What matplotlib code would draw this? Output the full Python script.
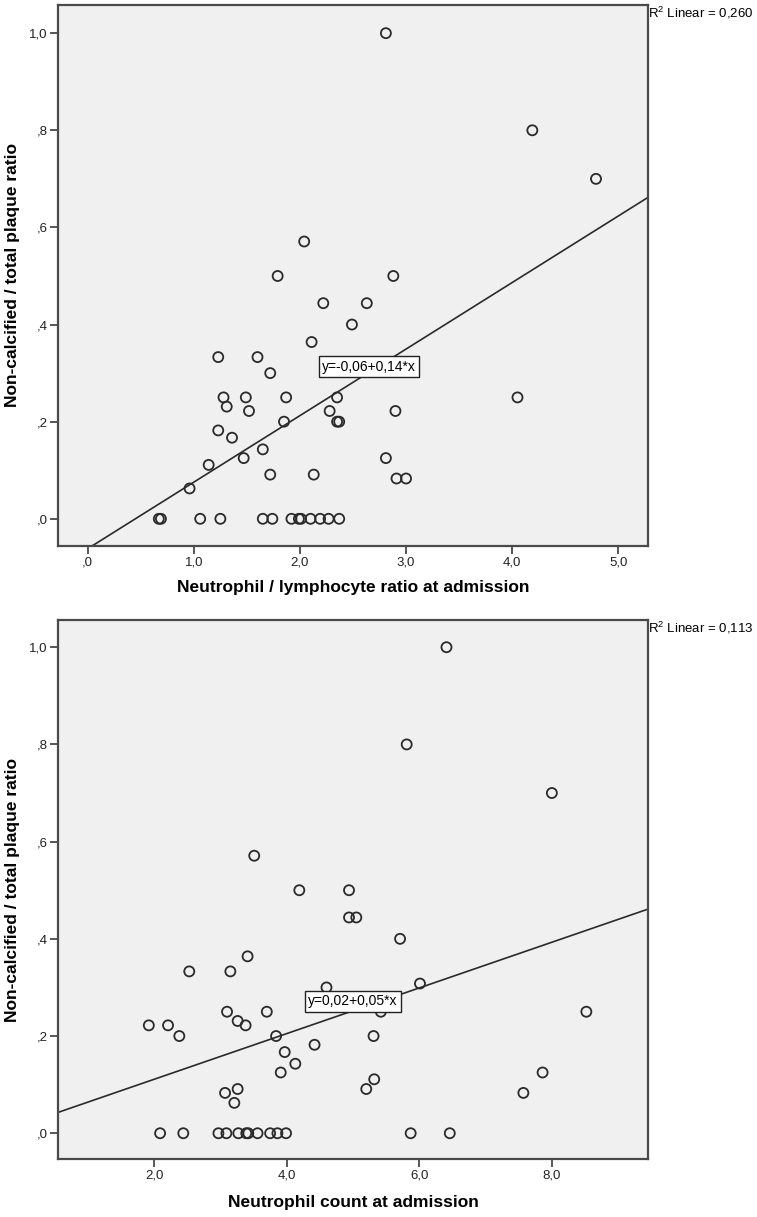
import matplotlib
matplotlib.use("Agg")
import matplotlib.pyplot as plt
import numpy as np

plt.rcParams['font.family'] = ['Liberation Sans', 'DejaVu Sans']
plt.rcParams['mathtext.fontset'] = 'custom'
plt.rcParams['mathtext.rm'] = 'Liberation Sans'
plt.rcParams['mathtext.it'] = 'Liberation Sans:italic'
plt.rcParams['mathtext.bf'] = 'Liberation Sans:bold'

# ---------------- data: top panel (NLR) ----------------
nlr_x = [0.67, 0.69, 1.06, 1.25, 1.65, 1.74, 1.92, 1.99, 2.01, 2.10, 2.19, 2.27, 2.37,
         0.96, 1.14, 1.47, 1.65, 1.36, 1.23, 1.85, 2.35, 2.37, 1.52, 2.28, 1.31,
         1.28, 1.49, 1.87, 2.35, 1.72, 1.23, 1.60, 2.11, 2.49, 2.22, 2.63, 1.79,
         2.88, 2.04, 2.81, 4.19, 4.79, 4.05, 2.90, 2.81, 2.91, 3.00, 1.72, 2.13]
nlr_y = [0, 0, 0, 0, 0, 0, 0, 0, 0, 0, 0, 0, 0,
         0.0625, 0.111, 0.125, 0.143, 0.167, 0.182, 0.200, 0.200, 0.200, 0.222, 0.222, 0.231,
         0.250, 0.250, 0.250, 0.250, 0.300, 0.333, 0.333, 0.364, 0.400, 0.444, 0.444, 0.500,
         0.500, 0.571, 1.000, 0.800, 0.700, 0.250, 0.222, 0.125, 0.083, 0.083, 0.091, 0.091]
nlr_fit = (-0.0615, 0.137)          # intercept, slope
nlr_eq = "y=-0,06+0,14*x"
nlr_r2 = "0,260"
nlr_xticks = [0, 1, 2, 3, 4, 5]
nlr_xlabels = [",0", "1,0", "2,0", "3,0", "4,0", "5,0"]

# ---------------- data: bottom panel (neutrophil count) ----------------
neu_x = [2.09, 2.44, 2.97, 3.09, 3.27, 3.39, 3.42, 3.56, 3.75, 3.86, 3.99, 5.87, 6.46,
         4.94, 5.05, 3.41, 2.53, 3.15, 4.60, 3.10, 3.70, 3.26, 3.38, 1.92, 2.21,
         2.38, 3.84, 5.31, 3.97, 4.42, 4.13, 3.91, 5.32, 5.20, 3.26, 3.07, 3.21,
         3.51, 4.19, 4.94, 6.41, 5.81, 8.00, 5.71, 6.01, 5.42, 8.52, 7.86, 7.57]
neu_y = [0, 0, 0, 0, 0, 0, 0, 0, 0, 0, 0, 0, 0,
         0.444, 0.444, 0.364, 0.333, 0.333, 0.300, 0.250, 0.250, 0.231, 0.222, 0.222, 0.222,
         0.200, 0.200, 0.200, 0.167, 0.182, 0.143, 0.125, 0.111, 0.091, 0.091, 0.083, 0.0625,
         0.571, 0.500, 0.500, 1.000, 0.800, 0.700, 0.400, 0.308, 0.250, 0.250, 0.125, 0.083]
neu_fit = (0.017, 0.047)
neu_eq = "y=0,02+0,05*x"
neu_r2 = "0,113"
neu_xticks = [2, 4, 6, 8]
neu_xlabels = ["2,0", "4,0", "6,0", "8,0"]

yticks = [0, 0.2, 0.4, 0.6, 0.8, 1.0]
ylabels = [",0", ",2", ",4", ",6", ",8", "1,0"]

W, H = 757, 1217
fig = plt.figure(figsize=(W / 100, H / 100), dpi=100)

def make_ax(left, top, right, bottom):
    return fig.add_axes([left / W, 1 - bottom / H, (right - left) / W, (bottom - top) / H])

ax1 = make_ax(58, 5, 648, 546)
ax2 = make_ax(58, 620, 648, 1159)

frame = '#4a4a4a'

def style(ax, x, y, xlim, ylim, xticks, xlabels, fit, eq, eqpos, r2, xlabel):
    ax.set_facecolor('#f0f0f0')
    ax.set_xlim(*xlim)
    ax.set_ylim(*ylim)
    ax.scatter(x, y, s=52, facecolors='none', edgecolors='#2a2a2a', linewidths=1.3, zorder=3)
    xs = np.array(xlim)
    ax.plot(xs, fit[0] + fit[1] * xs, color='#2a2a2a', lw=1.2, zorder=2)
    ax.text(eqpos[0], eqpos[1], eq, fontsize=10, ha='center', va='center', zorder=5,
            bbox=dict(boxstyle='square,pad=0.25', fc='white', ec='#222222', lw=1.0))
    ax.text(1.0, 1.0, r"R$^2$ Linear = " + r2, transform=ax.transAxes, fontsize=9.5,
            ha='left', va='top')
    ax.set_xticks(xticks)
    ax.set_xticklabels(xlabels)
    ax.set_yticks(yticks)
    ax.set_yticklabels(ylabels)
    ax.tick_params(direction='out', length=6, width=1.3, color=frame, labelsize=9.5,
                   pad=1.5, labelcolor='#222222')
    for sp in ax.spines.values():
        sp.set_color(frame)
        sp.set_linewidth(1.6)
    ax.set_ylabel("Non-calcified / total plaque ratio", fontsize=12.5, fontweight='bold')
    ax.set_xlabel(xlabel, fontsize=12.5, fontweight='bold')
    ax.yaxis.set_label_coords(-0.064, 0.5)

style(ax1, nlr_x, nlr_y, (-0.28, 5.28), (-0.056, 1.058), nlr_xticks, nlr_xlabels,
      nlr_fit, nlr_eq, (2.65, 0.313), nlr_r2, "Neutrophil / lymphocyte ratio at admission")
ax1.xaxis.set_label_coords(0.5, -0.063)
ax1.xaxis.label.set_va('top')

style(ax2, neu_x, neu_y, (0.55, 9.45), (-0.053, 1.056), neu_xticks, neu_xlabels,
      neu_fit, neu_eq, (5.0, 0.272), neu_r2, "Neutrophil count at admission")
ax2.xaxis.set_label_coords(0.5, -0.067)
ax2.xaxis.label.set_va('top')

fig.savefig("out.png", dpi=100)
